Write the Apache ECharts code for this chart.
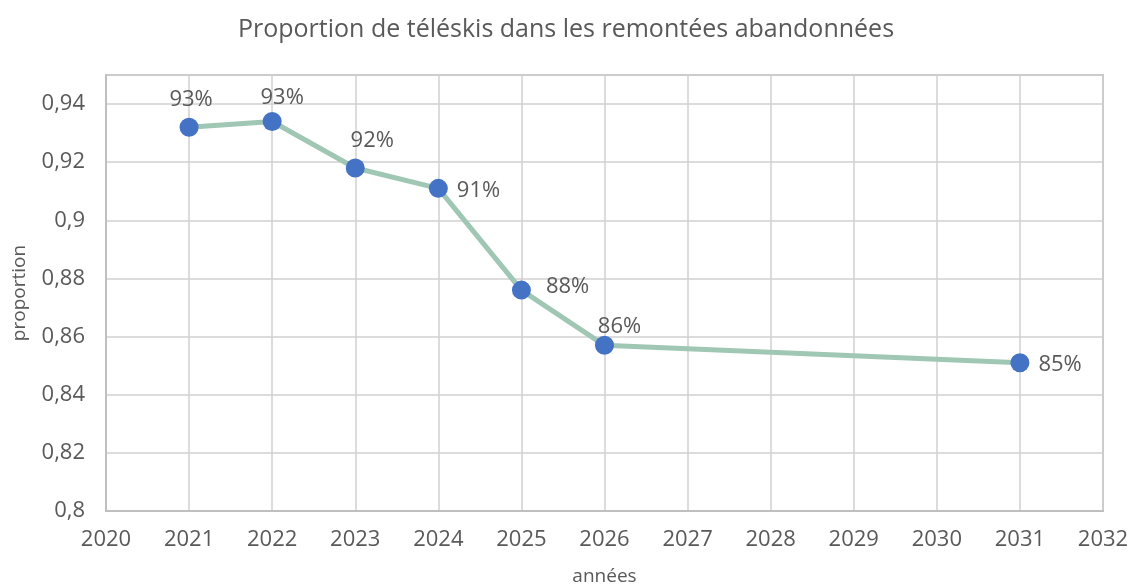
<!DOCTYPE html>
<html><head><meta charset="utf-8">
<script src="https://cdn.jsdelivr.net/npm/echarts@6/dist/echarts.min.js"></script>
<style>html,body{margin:0;padding:0;background:#fff}#c{width:1132px;height:585px}</style>
</head><body><div id="c"></div>
<script>
const years = [2021, 2022, 2023, 2024, 2025, 2026, 2031];
const proportions = [0.932, 0.934, 0.918, 0.911, 0.876, 0.857, 0.851];
const title = 'Proportion de téléskis dans les remontées abandonnées';
const xName = 'années';
const yName = 'proportion';

const labelCfg = [
  {position: 'top', offset: [2, -2]},
  {position: 'top', offset: [10, 2]},
  {position: 'top', offset: [17, -2]},
  {position: 'right', offset: [4, 2]},
  {position: 'right', offset: [10, -3]},
  {position: 'top', offset: [15, 7]},
  {position: 'right', offset: [4, 2]}
];
const FONT = "'Open Sans', sans-serif";
const C = '#595959';
const chart = echarts.init(document.getElementById('c'));
chart.setOption({
  backgroundColor: '#fff',
  animation: false,
  title: {text: title, left: 'center', top: 12, textStyle: {fontFamily: FONT, fontWeight: 400, fontSize: 25, color: C}},
  grid: {left: 106, right: 29, top: 75, bottom: 74, show: true, borderColor: '#bfbfbf', borderWidth: 2, outerBoundsMode: 'none', containLabel: false},
  xAxis: {
    type: 'value', min: 2020, max: 2032, interval: 1,
    name: xName, nameLocation: 'middle', nameGap: 56,
    nameTextStyle: {fontFamily: FONT, fontWeight: 400, fontSize: 19, color: C},
    axisLine: {show: true, lineStyle: {color: '#bfbfbf', width: 2}},
    axisTick: {show: false},
    axisLabel: {fontFamily: FONT, fontWeight: 400, fontSize: 22, color: C, margin: 18, formatter: v => String(v)},
    splitLine: {show: true, lineStyle: {color: '#d0d0d0', width: 1.5}}
  },
  yAxis: {
    type: 'value', min: 0.8, max: 0.95, interval: 0.02,
    name: yName, nameLocation: 'middle', nameGap: 77, nameRotate: 90,
    nameTextStyle: {fontFamily: FONT, fontWeight: 400, fontSize: 19, color: C},
    axisLine: {show: true, lineStyle: {color: '#bfbfbf', width: 2}},
    axisTick: {show: false},
    axisLabel: {fontFamily: FONT, fontWeight: 400, fontSize: 22, color: C, margin: 21, showMaxLabel: false,
      formatter: v => String(+v.toFixed(2)).replace('.', ',')},
    splitLine: {show: true, lineStyle: {color: '#d0d0d0', width: 1.5}}
  },
  series: [{
    type: 'line',
    data: years.map((y, i) => ({value: [y, proportions[i]], label: labelCfg[i]})),
    symbol: 'circle', symbolSize: 19,
    itemStyle: {color: '#4472c4'},
    lineStyle: {color: '#9fc7b3', width: 5},
    label: {show: true, fontFamily: FONT, fontWeight: 400, fontSize: 22, color: C,
      formatter: p => Math.round(p.value[1] * 100) + '%'}
  }]
});
</script></body></html>
